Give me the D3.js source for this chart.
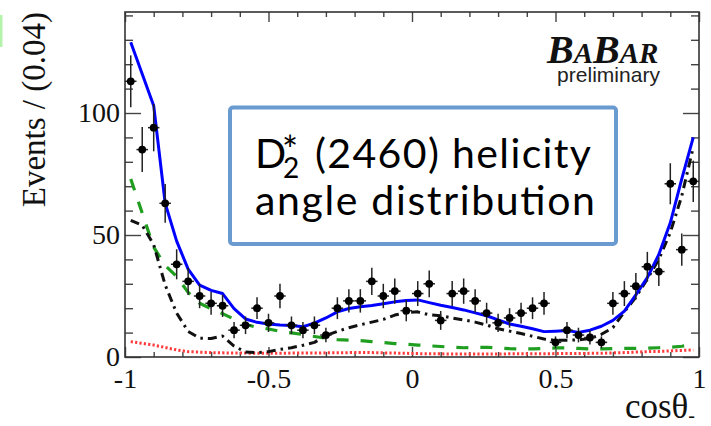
<!DOCTYPE html>
<html>
<head>
<meta charset="utf-8">
<script src="https://cdn.jsdelivr.net/npm/d3@7/dist/d3.min.js"></script>
<style>
  html, body { margin: 0; padding: 0; background: #fff; }
  svg { display: block; }
</style>
</head>
<body>
<script>
// Bin centres of the cos(theta) histogram (bin width 0.04)
const binCenters = [
  -0.98, -0.94, -0.90, -0.86, -0.82, -0.78, -0.74, -0.70, -0.66, -0.62,
  -0.58, -0.54, -0.50, -0.46, -0.42, -0.38, -0.34, -0.30, -0.26, -0.22,
  -0.18, -0.14, -0.10, -0.06, -0.02,  0.02,  0.06,  0.10,  0.14,  0.18,
   0.22,  0.26,  0.30,  0.34,  0.38,  0.42,  0.46,  0.50,  0.54,  0.58,
   0.62,  0.66,  0.70,  0.74,  0.78,  0.82,  0.86,  0.90,  0.94,  0.98
];

// Observed events per bin
const dataCounts = [
  113, 85, 94, 63, 38, 31, 25, 22, 21, 11,
   13, 20, 14, 25, 13, 11, 13,  9, 20, 23,
   23, 31, 25, 27, 19, 26, 30, 15, 26, 27,
   23, 18, 14, 16, 18, 20, 22,  6, 11,  9,
    8,  6, 22, 26, 29, 37, 35, 71, 44, 72
];

// Total fit projection (solid blue)
const totalFit = [
  129, 116, 103, 63, 47.5, 36, 29.5, 27.3, 26, 19.8,
  15.6, 14.2, 13.5, 13.1, 12.9, 12.4, 13.9, 16, 18.5, 19.9,
  20.6, 21.1, 21.8, 22.6, 23.2, 23.4, 22.3, 21.2, 20.3, 19.3,
  18.1, 16.9, 15.2, 13.5, 12.6, 11.6, 10.4, 10.6, 10.9, 10.1,
  11.0, 12.6, 15.0, 18.8, 25.5, 32.5, 42, 55, 73, 90
];

// Background component (dashed green)
const backgroundFit = [
  73, 59, 45, 37.5, 33, 26.5, 22, 19.8, 17.8, 15.5,
  13.3, 12.2, 11.5, 10.5, 9.9, 9.2, 8.4, 7.7, 7.1, 6.9,
  6.7, 6.3, 5.9, 5.5, 5.2, 4.9, 4.6, 4.3, 4.0, 3.8,
  3.9, 4.0, 3.7, 3.4, 3.3, 3.3, 3.5, 3.7, 3.8, 3.5,
  3.3, 3.3, 3.4, 3.5, 3.5, 3.6, 3.8, 4.0, 4.4, 5.0
];

// D2*(2460) signal component (black dash-dot)
const signalFit = [
  56, 54, 46, 29.5, 18, 10.5, 7.7, 7.6, 8.6, 4.5,
  2.0, 1.8, 2.2, 3.1, 3.8, 4.8, 6.0, 8.8, 10.5, 12.0,
  13.2, 14.3, 15.4, 17.2, 18.2, 18.5, 17.3, 16.9, 16.0, 15.2,
  14.3, 13.1, 11.6, 10.6, 9.6, 8.5, 7.4, 6.8, 6.9, 7.0,
  7.6, 9.3, 12.0, 18.5, 24.5, 32, 40, 51, 66, 86
];

// Feed-down component (dotted red)
const feedDownFit = [
  6.3, 5.6, 4.9, 3.9, 2.9, 2.2, 2.0, 1.8, 1.7, 1.6,
  1.6, 1.5, 1.5, 1.5, 1.6, 1.6, 1.6, 1.7, 1.7, 1.8,
  1.8, 1.8, 1.7, 1.6, 1.5, 1.4, 1.3, 1.3, 1.2, 1.2,
  1.2, 1.2, 1.2, 1.3, 1.3, 1.3, 1.3, 1.4, 1.4, 1.4,
  1.5, 1.5, 1.7, 1.8, 2.0, 2.2, 2.3, 2.5, 2.7, 2.9
];

// Axis ticks
const xMajorTicks = [-1, -0.5, 0, 0.5, 1];
const xMinorTicks = [-0.9, -0.8, -0.7, -0.6, -0.4, -0.3, -0.2, -0.1,
                      0.1, 0.2, 0.3, 0.4, 0.6, 0.7, 0.8, 0.9];
const xTickLabels = ["-1", "-0.5", "0", "0.5", "1"];
const yMajorTicks = [0, 50, 100];
const yMinorTicks = [10, 20, 30, 40, 60, 70, 80, 90, 110, 120, 130, 140];
const yTickLabels = ["0", "50", "100"];
const binWidth = 0.04;

const W = 711, H = 426;
const frame = { left: 125, right: 699, top: 12, bottom: 357 };

const svg = d3.select("body").append("svg")
  .attr("width", W).attr("height", H)
  .attr("viewBox", `0 0 ${W} ${H}`);

const x = d3.scaleLinear().domain([-1, 1]).range([frame.left, frame.right]);
const y = d3.scaleLinear().domain([0, 141.4]).range([frame.bottom, frame.top]);

const serif = "'Liberation Serif', 'Times New Roman', serif";

// small green edge at the far left
svg.append("rect").attr("x", 0).attr("y", 15).attr("width", 2.5).attr("height", 32)
  .attr("fill", "#b5f3ac");

// ---- axes (ticks on all four sides, pointing inward) ----
function styleAxis(g) {
  g.select(".domain").remove();
  g.selectAll(".tick line").attr("stroke", "#444").attr("stroke-width", 1.4);
  g.selectAll("text").attr("font-family", serif).attr("font-size", 28).attr("fill", "#111");
}
const xFmt = d => xTickLabels[xMajorTicks.indexOf(d)];
const yFmt = d => yTickLabels[yMajorTicks.indexOf(d)];

svg.append("g").attr("transform", `translate(0,${frame.bottom})`)
  .call(d3.axisBottom(x).tickValues(xMinorTicks).tickSize(-5).tickFormat(""))
  .call(styleAxis);
svg.append("g").attr("transform", `translate(0,${frame.bottom})`)
  .call(d3.axisBottom(x).tickValues(xMajorTicks).tickSize(-10).tickPadding(11).tickFormat(xFmt))
  .call(styleAxis);
svg.append("g").attr("transform", `translate(0,${frame.top})`)
  .call(d3.axisTop(x).tickValues(xMinorTicks).tickSize(-5).tickFormat(""))
  .call(styleAxis);
svg.append("g").attr("transform", `translate(0,${frame.top})`)
  .call(d3.axisTop(x).tickValues(xMajorTicks).tickSize(-10).tickFormat(""))
  .call(styleAxis);

svg.append("g").attr("transform", `translate(${frame.left},0)`)
  .call(d3.axisLeft(y).tickValues(yMinorTicks).tickSize(-8).tickFormat(""))
  .call(styleAxis);
svg.append("g").attr("transform", `translate(${frame.left},0)`)
  .call(d3.axisLeft(y).tickValues(yMajorTicks).tickSize(-16).tickPadding(5).tickFormat(yFmt))
  .call(styleAxis);
svg.append("g").attr("transform", `translate(${frame.right},0)`)
  .call(d3.axisRight(y).tickValues(yMinorTicks).tickSize(-8).tickFormat(""))
  .call(styleAxis);
svg.append("g").attr("transform", `translate(${frame.right},0)`)
  .call(d3.axisRight(y).tickValues(yMajorTicks).tickSize(-16).tickFormat(""))
  .call(styleAxis);

// frame
svg.append("rect")
  .attr("x", frame.left).attr("y", frame.top)
  .attr("width", frame.right - frame.left).attr("height", frame.bottom - frame.top)
  .attr("fill", "none").attr("stroke", "#333").attr("stroke-width", 1.6);

// ---- fit curves ----
const line = d3.line().x(d => x(d[0])).y(d => y(d[1]));
function drawCurve(values, color, width, dash) {
  svg.append("path")
    .datum(binCenters.map((c, i) => [c, values[i]]))
    .attr("d", line)
    .attr("fill", "none")
    .attr("stroke", color)
    .attr("stroke-width", width)
    .attr("stroke-dasharray", dash)
    .attr("stroke-linejoin", "round");
}
drawCurve(feedDownFit, "#ff3b3b", 3, "2.2,2.2");
drawCurve(backgroundFit, "#1f9e1f", 3.2, "12,12");
drawCurve(signalFit, "#111", 3, "9,5,2.5,5");
drawCurve(totalFit, "#0000ff", 3, null);

// ---- data points with Poisson errors ----
const pts = binCenters.map((c, i) => ({ c, n: dataCounts[i] }));
const gData = svg.append("g");
gData.selectAll("line.ey").data(pts).join("line")
  .attr("class", "ey")
  .attr("x1", d => x(d.c)).attr("x2", d => x(d.c))
  .attr("y1", d => y(d.n - Math.sqrt(d.n))).attr("y2", d => y(Math.min(d.n + Math.sqrt(d.n), 141.4)))
  .attr("stroke", "#222").attr("stroke-width", 1.5);
gData.selectAll("line.ex").data(pts).join("line")
  .attr("class", "ex")
  .attr("x1", d => x(d.c - binWidth / 2)).attr("x2", d => x(d.c + binWidth / 2))
  .attr("y1", d => y(d.n)).attr("y2", d => y(d.n))
  .attr("stroke", "#222").attr("stroke-width", 1.5);
gData.selectAll("circle").data(pts).join("circle")
  .attr("cx", d => x(d.c)).attr("cy", d => y(d.n)).attr("r", 3.9)
  .attr("fill", "#000");

// ---- axis titles ----
svg.append("text")
  .attr("transform", "translate(45,12) rotate(-90)")
  .attr("text-anchor", "end")
  .attr("font-family", serif).attr("font-size", 33).attr("fill", "#111")
  .text("Events / (0.04)");

const xt = svg.append("text")
  .attr("x", 695).attr("y", 418)
  .attr("text-anchor", "end")
  .attr("font-family", serif).attr("font-size", 35).attr("fill", "#111");
xt.append("tspan").text("cosθ");
xt.append("tspan").attr("font-size", 20).attr("dy", 4).text("-");

// ---- BaBar logo with "preliminary" underneath ----
const logo = svg.append("text")
  .attr("font-family", serif).attr("fill", "#111");
logo.append("tspan").attr("x", 547).attr("y", 63)
  .attr("font-weight", "bold").attr("font-style", "italic").attr("font-size", 40).text("B");
logo.append("tspan").attr("font-weight", "bold").attr("font-style", "italic").attr("font-size", 29).text("A");
logo.append("tspan").attr("font-weight", "bold").attr("font-style", "italic").attr("font-size", 40).text("B");
logo.append("tspan").attr("font-weight", "bold").attr("font-style", "italic").attr("font-size", 29).text("AR");
logo.append("tspan").attr("x", 557).attr("y", 82)
  .attr("font-family", "'Liberation Sans', Arial, sans-serif").attr("font-size", 21)
  .attr("fill", "#222").attr("textLength", 103)
  .text("preliminary");

// ---- caption box ----
svg.append("rect")
  .attr("x", 230).attr("y", 107.5).attr("width", 386).attr("height", 136.5)
  .attr("rx", 3)
  .attr("fill", "#fff").attr("stroke", "#6a9bd0").attr("stroke-width", 4);

const capFont = "Lato, 'Open Sans', sans-serif";
const cap = svg.append("text")
  .attr("font-family", capFont).attr("fill", "#000");
cap.append("tspan").attr("x", 255).attr("y", 168).attr("font-size", 41).text("D");
cap.append("tspan").attr("x", 283).attr("y", 178).attr("font-size", 28).text("2");
cap.append("tspan").attr("x", 282).attr("y", 164).attr("font-size", 38).text("*");
cap.append("tspan").attr("x", 315).attr("y", 168).attr("font-size", 41)
  .attr("textLength", 276).text("(2460) helicity");
cap.append("tspan").attr("x", 255).attr("y", 215).attr("font-size", 41)
  .attr("textLength", 340).text("angle distribution");
</script>
</body>
</html>
